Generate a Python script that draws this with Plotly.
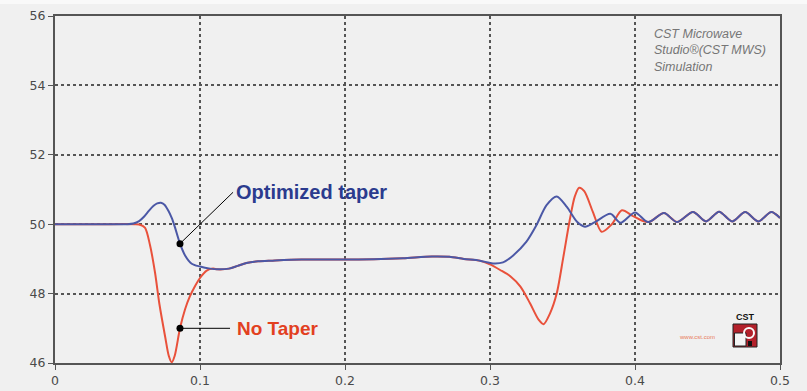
import plotly.graph_objects as go

# Time axis (ns) and impedance (Ohm) for the two TDR traces
x_opt = [0, 0.03, 0.05, 0.054, 0.058, 0.061, 0.065, 0.068, 0.0705, 0.073, 0.0755, 0.078,
         0.0805, 0.0828, 0.0862, 0.0897, 0.0943, 0.1, 0.107, 0.112, 0.12, 0.126,
         0.132, 0.14, 0.15, 0.17, 0.2, 0.22, 0.24, 0.26, 0.272, 0.282, 0.293,
         0.302, 0.309, 0.316, 0.325, 0.332, 0.339, 0.346, 0.353, 0.36, 0.3655,
         0.372, 0.383, 0.39, 0.4, 0.409, 0.42, 0.429, 0.44, 0.449, 0.458, 0.467,
         0.476, 0.485, 0.494, 0.5]
z_opt = [50.0, 50.0, 50.0, 50.02, 50.09, 50.2, 50.4, 50.53, 50.6, 50.62, 50.56, 50.4,
         50.18, 49.9, 49.44, 49.1, 48.86, 48.78, 48.72, 48.7, 48.72, 48.8,
         48.88, 48.93, 48.95, 48.98, 48.98, 48.99, 49.02, 49.07, 49.06, 49.0, 48.95,
         48.87, 48.9, 49.1, 49.49, 49.97, 50.55, 50.8, 50.5, 50.07, 49.93,
         50.05, 50.3, 50.04, 50.34, 50.06, 50.32, 50.06, 50.35, 50.08, 50.36, 50.08,
         50.35, 50.08, 50.35, 50.18]

x_none = [0, 0.03, 0.055, 0.058, 0.062, 0.0655, 0.069, 0.072, 0.076, 0.0785, 0.0805, 0.0825,
          0.0862, 0.0897, 0.093, 0.097, 0.1, 0.1046, 0.109, 0.112, 0.12, 0.126,
          0.132, 0.14, 0.15, 0.17, 0.2, 0.22, 0.24, 0.26, 0.272, 0.282, 0.293,
          0.3, 0.307, 0.314, 0.321, 0.3276, 0.3335, 0.337, 0.3414, 0.346, 0.3506,
          0.355, 0.3585, 0.3615, 0.365, 0.371, 0.377, 0.384, 0.391, 0.398, 0.405,
          0.41, 0.42, 0.429, 0.44, 0.449, 0.458, 0.467, 0.476, 0.485, 0.494, 0.5]
z_none = [50.0, 50.0, 50.0, 49.99, 49.9, 49.4, 48.6, 47.7, 46.75, 46.2, 46.02, 46.2,
          47.0, 47.55, 47.92, 48.25, 48.45, 48.66, 48.72, 48.7, 48.72, 48.8,
          48.88, 48.93, 48.95, 48.98, 48.98, 48.99, 49.02, 49.07, 49.06, 49.0, 48.95,
          48.84, 48.68, 48.5, 48.2, 47.72, 47.25, 47.12, 47.43, 48.0, 49.06,
          50.12, 50.8, 51.05, 50.95, 50.35, 49.78, 50.0, 50.4, 50.25, 50.1,
          50.07, 50.32, 50.06, 50.35, 50.08, 50.36, 50.08, 50.35, 50.08, 50.35, 50.18]

x_ticks = [0, 0.1, 0.2, 0.3, 0.4, 0.5]
x_tick_text = ["0", "0.1", "0.2", "0.3", "0.4", "0.5"]
y_ticks = [46, 48, 50, 52, 54, 56]

label_opt = "Optimized taper"
label_none = "No Taper"
sim_note = "CST Microwave<br>Studio®(CST MWS)<br>Simulation"

# callout points sit on the curves
t_call = 0.0862
dot_opt = z_opt[x_opt.index(t_call)]
dot_none = z_none[x_none.index(t_call)]

BLUE = "#4b58a6"
RED = "#e9513b"
W, H = 807, 391
L, R, T, B = 55, 27, 16, 28
PW = W - L - R
TOP_PX, BOT_PX = T, H - B


def px(xp):
    return (xp - L) / PW


def py(yp):
    return (BOT_PX - yp) / (BOT_PX - TOP_PX)


fig = go.Figure()
fig.add_trace(go.Scatter(x=x_none, y=z_none, mode="lines", line=dict(color=RED, width=2, shape="spline", smoothing=0.8),
                         name=label_none, hoverinfo="skip"))
fig.add_trace(go.Scatter(x=x_opt, y=z_opt, mode="lines", line=dict(color=BLUE, width=2, shape="spline", smoothing=0.8),
                         name=label_opt, hoverinfo="skip"))

# leader lines from labels to the curves
x_lab_opt, y_lab_opt = 0.1228, 50.92
x_lab_none, y_lab_none = 0.1207, dot_none
shapes = [
    dict(type="line", xref="x", yref="y", x0=t_call, y0=dot_opt, x1=x_lab_opt, y1=y_lab_opt,
         line=dict(color="black", width=1)),
    dict(type="line", xref="x", yref="y", x0=t_call, y0=dot_none, x1=x_lab_none, y1=y_lab_none,
         line=dict(color="black", width=1)),
    # light strip along the top edge
    dict(type="rect", xref="paper", yref="paper", x0=px(0), x1=px(W), y0=py(4), y1=py(0),
         fillcolor="#f9f9f9", line=dict(width=0), layer="below"),
    # CST logo block
    dict(type="rect", xref="paper", yref="paper", x0=px(733), x1=px(757), y0=py(347), y1=py(324),
         fillcolor="#b3202a", line=dict(color="#222", width=1)),
    dict(type="rect", xref="paper", yref="paper", x0=px(734.5), x1=px(746), y0=py(346), y1=py(333),
         fillcolor="#f4f4f4", line=dict(color="#222", width=1)),
    dict(type="circle", xref="paper", yref="paper", x0=px(744), x1=px(754), y0=py(338), y1=py(328),
         fillcolor="rgba(0,0,0,0)", line=dict(color="#fafafa", width=2)),
    dict(type="rect", xref="paper", yref="paper", x0=px(748), x1=px(752), y0=py(346), y1=py(341),
         fillcolor="#111", line=dict(width=0)),
]

fig.add_trace(go.Scatter(x=[t_call, t_call], y=[dot_opt, dot_none], mode="markers",
                         marker=dict(color="black", size=7), hoverinfo="skip", showlegend=False))

annotations = [
    dict(x=x_lab_opt, y=y_lab_opt, xref="x", yref="y", text="<b>" + label_opt + "</b>",
         showarrow=False, xanchor="left", yanchor="middle", xshift=1,
         font=dict(family="Liberation Sans, Arial", size=20, color="#2b3b8e")),
    dict(x=x_lab_none, y=y_lab_none, xref="x", yref="y", text="<b>" + label_none + "</b>",
         showarrow=False, xanchor="left", yanchor="middle", xshift=5,
         font=dict(family="Liberation Sans, Arial", size=19, color="#e2401f")),
    dict(x=px(652), y=py(25), xref="paper", yref="paper", text="<i>" + sim_note + "</i>",
         showarrow=False, xanchor="left", yanchor="top", align="left",
         font=dict(family="Liberation Sans, Arial", size=12.5, color="#767676")),
    dict(x=px(745), y=py(317), xref="paper", yref="paper", text="<b>CST</b>",
         showarrow=False, xanchor="center", yanchor="middle",
         font=dict(family="Liberation Sans, Arial", size=9, color="#111")),
    dict(x=px(697), y=py(337), xref="paper", yref="paper", text="www.cst.com",
         showarrow=False, xanchor="center", yanchor="middle",
         font=dict(family="Liberation Sans, Arial", size=6, color="#e87a5a")),
]

axis_common = dict(
    showline=True, linecolor="#555", linewidth=2, mirror=True,
    showgrid=True, gridcolor="#555", gridwidth=1.5, griddash="dot",
    ticks="outside", ticklen=5, tickcolor="#555", tickwidth=1,
    zeroline=False, automargin=False,
    tickfont=dict(family="DejaVu Sans", size=12.5, color="#4a4a4a"),
)

fig.update_layout(
    width=W, height=H,
    margin=dict(l=L, r=R, t=T, b=B),
    paper_bgcolor="#f0f0f0", plot_bgcolor="#f0f0f0",
    showlegend=False,
    shapes=shapes, annotations=annotations,
    xaxis=dict(range=[0, 0.5], tickvals=x_ticks, ticktext=x_tick_text, **axis_common),
    yaxis=dict(range=[46, 56], tickvals=y_ticks, **axis_common),
)

fig.write_html("out.html")
